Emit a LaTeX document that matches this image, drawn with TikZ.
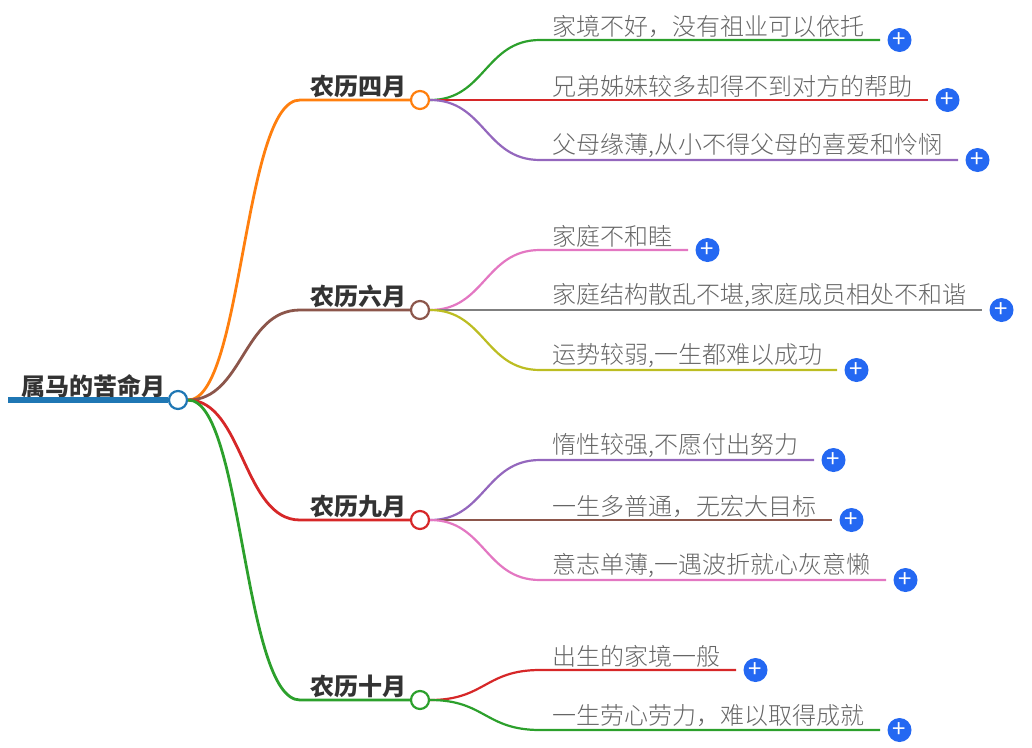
\documentclass[tikz,border=0pt]{standalone}
\usepackage{fontspec}
\setmainfont{Noto Sans CJK SC}
\newfontfamily\leaffont{Noto Sans CJK SC Light}
\usetikzlibrary{positioning}
\definecolor{cblue}{HTML}{1F77B4}
\definecolor{corange}{HTML}{FF7F0E}
\definecolor{cbrown}{HTML}{8C564B}
\definecolor{cred}{HTML}{D62728}
\definecolor{cgreen}{HTML}{2CA02C}
\definecolor{cpurple}{HTML}{9467BD}
\definecolor{cpink}{HTML}{E377C2}
\definecolor{cgray}{HTML}{7F7F7F}
\definecolor{colive}{HTML}{BCBD22}
\definecolor{cplus}{HTML}{2468F2}
\definecolor{ctext}{HTML}{333333}
\definecolor{cleaf}{HTML}{666666}
\tikzset{
  x=1pt, y=-1pt,
  hub/.style={circle, draw, line width=2.2pt, fill=white, minimum size=18pt, inner sep=0pt},
  title/.style={font=\bfseries\fontsize{24}{24}\selectfont, text=ctext, inner sep=0pt, anchor=west},
  leaf/.style={font=\leaffont\fontsize{24}{24}\selectfont, text=cleaf, inner sep=0pt, anchor=west},
  plus/.style={circle, fill=cplus, text=white, minimum size=24pt, inner sep=0pt, font=\fontsize{24}{24}\selectfont},
  branch/.style={line width=2.8pt},
  twig/.style={line width=2.2pt}
}
\begin{document}
\begin{tikzpicture}
  \useasboundingbox (0,0) rectangle (1032,747);

  % Nodes
  \node[title] (rootText) at (21.5,386) {属马的苦命月};
  \node[title] (aprText) at (310,86) {农历四月};
  \node[title] (junText) at (310,296) {农历六月};
  \node[title] (sepText) at (310,506) {农历九月};
  \node[title] (octText) at (310,686) {农历十月};

  \node[leaf] (aprA) at (552,26) {家境不好，没有祖业可以依托};
  \node[leaf] (aprB) at (552,86) {兄弟姊妹较多却得不到对方的帮助};
  \node[leaf] (aprC) at (552,146) {父母缘薄,从小不得父母的喜爱和怜悯};
  \node[leaf] (junA) at (552,236) {家庭不和睦};
  \node[leaf] (junB) at (552,296) {家庭结构散乱不堪,家庭成员相处不和谐};
  \node[leaf] (junC) at (552,356) {运势较弱,一生都难以成功};
  \node[leaf] (sepA) at (552,446) {惰性较强,不愿付出努力};
  \node[leaf] (sepB) at (552,506) {一生多普通，无宏大目标};
  \node[leaf] (sepC) at (552,566) {意志单薄,一遇波折就心灰意懒};
  \node[leaf] (octA) at (552,656) {出生的家境一般};
  \node[leaf] (octB) at (552,716) {一生劳心劳力，难以取得成就};

  \node[hub, draw=cblue] (rootHub) at (178,400) {};
  \node[hub, draw=corange] (aprHub) at (420,100) {};
  \node[hub, draw=cbrown] (junHub) at (420,310) {};
  \node[hub, draw=cred] (sepHub) at (420,520) {};
  \node[hub, draw=cgreen] (octHub) at (420,700) {};

  \node[plus] (aprAPlus) at (899.5,40) {+};
  \node[plus] (aprBPlus) at (947.5,100) {+};
  \node[plus] (aprCPlus) at (977.5,160) {+};
  \node[plus] (junAPlus) at (707.5,250) {+};
  \node[plus] (junBPlus) at (1001.5,310) {+};
  \node[plus] (junCPlus) at (856.5,370) {+};
  \node[plus] (sepAPlus) at (833.5,460) {+};
  \node[plus] (sepBPlus) at (851.5,520) {+};
  \node[plus] (sepCPlus) at (905.5,580) {+};
  \node[plus] (octAPlus) at (755.5,670) {+};
  \node[plus] (octBPlus) at (899.5,730) {+};

  % Edge ends
  \coordinate (rootStart) at (8,400);
  \coordinate (aprBend) at (300,100);
  \coordinate (junBend) at (300,310);
  \coordinate (sepBend) at (300,520);
  \coordinate (octBend) at (300,700);

  \coordinate (aprAEnd) at (880,40);
  \coordinate (aprBEnd) at (928,100);
  \coordinate (aprCEnd) at (958,160);
  \coordinate (junAEnd) at (688,250);
  \coordinate (junBEnd) at (982,310);
  \coordinate (junCEnd) at (837,370);
  \coordinate (sepAEnd) at (814,460);
  \coordinate (sepBEnd) at (832,520);
  \coordinate (sepCEnd) at (886,580);
  \coordinate (octAEnd) at (736,670);
  \coordinate (octBEnd) at (880,730);

  % Edges
  \draw[cblue, line width=6pt] (rootStart) -- (rootHub.west);
  \draw[branch, corange] (rootHub.east) .. controls (243,400) and (243,100) .. (aprBend) -- (aprHub.west);
  \draw[branch, cbrown] (rootHub.east) .. controls (243,400) and (243,310) .. (junBend) -- (junHub.west);
  \draw[branch, cred] (rootHub.east) .. controls (243,400) and (243,520) .. (sepBend) -- (sepHub.west);
  \draw[branch, cgreen] (rootHub.east) .. controls (243,400) and (243,700) .. (octBend) -- (octHub.west);

  \draw[twig, cgreen] (aprHub.east) .. controls (485,100) and (485,40) .. (540,40) -- (aprAEnd);
  \draw[twig, cred] (aprHub.east) -- (aprBEnd);
  \draw[twig, cpurple] (aprHub.east) .. controls (485,100) and (485,160) .. (540,160) -- (aprCEnd);
  \draw[twig, cpink] (junHub.east) .. controls (485,310) and (485,250) .. (540,250) -- (junAEnd);
  \draw[twig, cgray] (junHub.east) -- (junBEnd);
  \draw[twig, colive] (junHub.east) .. controls (485,310) and (485,370) .. (540,370) -- (junCEnd);
  \draw[twig, cpurple] (sepHub.east) .. controls (485,520) and (485,460) .. (540,460) -- (sepAEnd);
  \draw[twig, cbrown] (sepHub.east) -- (sepBEnd);
  \draw[twig, cpink] (sepHub.east) .. controls (485,520) and (485,580) .. (540,580) -- (sepCEnd);
  \draw[twig, cred] (octHub.east) .. controls (485,700) and (485,670) .. (540,670) -- (octAEnd);
  \draw[twig, cgreen] (octHub.east) .. controls (485,700) and (485,730) .. (540,730) -- (octBEnd);
\end{tikzpicture}
\end{document}
